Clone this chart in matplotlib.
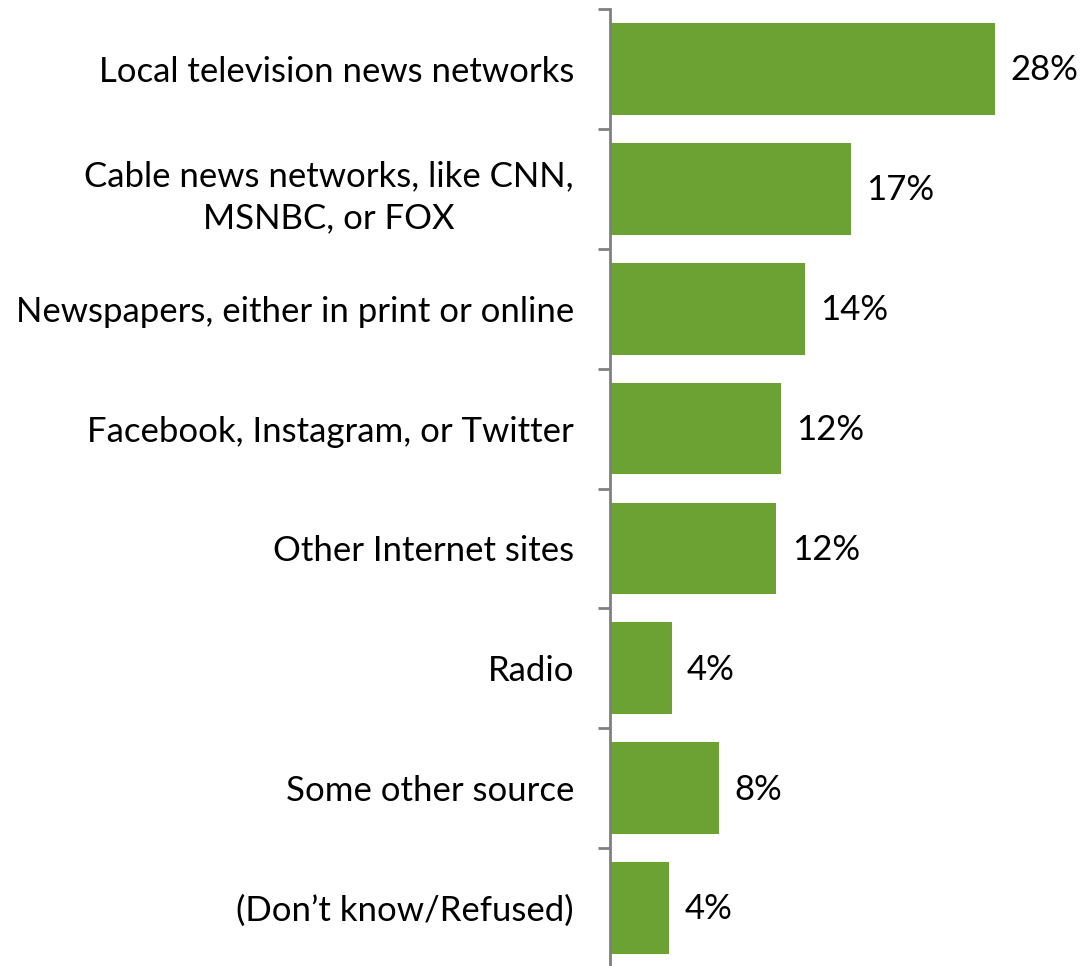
import numpy as np
import matplotlib.pyplot as plt

plt.rcParams['font.family'] = ['Lato', 'DejaVu Sans']

categories = ['Local television news networks',
              'Cable news networks, like CNN,\nMSNBC, or FOX',
              'Newspapers, either in print or online',
              'Facebook, Instagram, or Twitter',
              'Other Internet sites',
              'Radio',
              'Some other source',
              '(Don\u2019t know/Refused)']
values = [28.0, 17.5, 14.2, 12.4, 12.1, 4.5, 7.9, 4.3]
labels = ['28%', '17%', '14%', '12%', '12%', '4%', '8%', '4%']

green = '#6ca133'
axis_gray = '#808080'

fig = plt.figure(figsize=(10.82, 9.66), dpi=100)
ax = fig.add_axes([610 / 1082, -2 / 966, 472 / 1082, 959 / 966])

y = np.arange(len(categories))
ax.barh(y, values, height=0.765, color=green)
ax.set_xlim(0, 472 / 13.75)
ax.set_ylim(len(categories) - 0.5, -0.5)

for yi, v, lab in zip(y, values, labels):
    ax.annotate(lab, (v, yi), xytext=(11, -1), textcoords='offset points',
                ha='left', va='center', fontsize=25, color='black')

ax.set_yticks(y)
ax.set_yticklabels(categories, fontsize=25)
for t in ax.get_yticklabels():
    t.set_multialignment('center')
    t.set_linespacing(1.4)
ax.tick_params(axis='y', which='major', length=0, pad=26)
ax.set_yticks(np.arange(-0.5, len(categories) - 1, 1.0), minor=True)
ax.tick_params(axis='y', which='minor', length=9, width=2, color=axis_gray)

ax.set_xticks([])
for s in ['top', 'right', 'bottom']:
    ax.spines[s].set_visible(False)
ax.spines['left'].set_color(axis_gray)
ax.spines['left'].set_linewidth(2)

fig.savefig('out.png', dpi=100)
